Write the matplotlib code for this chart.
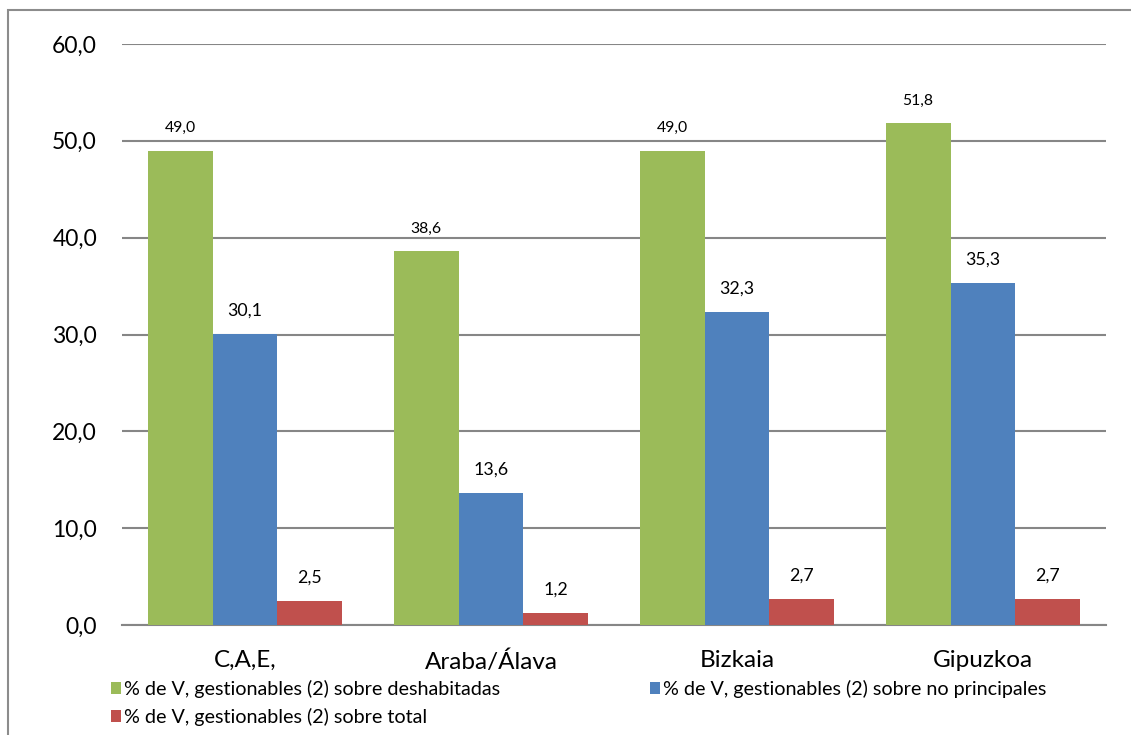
import matplotlib
matplotlib.use("Agg")
import matplotlib.pyplot as plt
from matplotlib.patches import Rectangle
import numpy as np

categories = ["C,A,E,", "Araba/Álava", "Bizkaia", "Gipuzkoa"]
deshabitadas = [49.0, 38.6, 49.0, 51.8]
no_principales = [30.1, 13.6, 32.3, 35.3]
total = [2.5, 1.2, 2.7, 2.7]
series_labels = [
    "% de V, gestionables (2) sobre deshabitadas",
    "% de V, gestionables (2) sobre no principales",
    "% de V, gestionables (2) sobre total",
]
colors = ["#9BBB59", "#4F81BD", "#C0504D"]
label_sizes = [11.3, 12.8, 12.8]
yticks = [0, 10, 20, 30, 40, 50, 60]

plt.rcParams["font.family"] = ["Lato", "DejaVu Sans"]

fig = plt.figure(figsize=(11.31, 7.35), dpi=100)
ax = fig.add_axes([122 / 1131, 1 - 625 / 735, (1106 - 122) / 1131, (625 - 44) / 735])

x = np.arange(len(categories))
w = 0.264
series = [deshabitadas, no_principales, total]
bars = []
for i, (vals, col, lab, fs) in enumerate(zip(series, colors, series_labels, label_sizes)):
    b = ax.bar(x + (i - 1) * w, vals, w, color=col, label=lab, zorder=3)
    bars.append(b)
    for xi, v in zip(x, vals):
        ax.annotate(f"{v:.1f}".replace(".", ","), (xi + (i - 1) * w, v),
                    xytext=(0, 11), textcoords="offset points",
                    ha="center", va="bottom", fontsize=fs, color="#000000")

ax.set_xlim(-0.5, len(categories) - 0.5)
ax.set_ylim(0, 60)
ax.set_yticks(yticks)
ax.set_yticklabels([f"{t:.1f}".replace(".", ",") for t in yticks], fontsize=16.5)
ax.set_xticks(x)
ax.set_xticklabels(categories, fontsize=17.5)
ax.tick_params(axis="both", length=0)
ax.tick_params(axis="y", pad=18)
ax.tick_params(axis="x", pad=18)
ax.grid(axis="y", color="#868686", linewidth=1.5, zorder=0)
for s in ["top", "right", "left"]:
    ax.spines[s].set_visible(False)
ax.spines["bottom"].set_color("#868686")
ax.spines["bottom"].set_linewidth(1.5)

handles = [bars[0], bars[2], bars[1]]
labels = [series_labels[0], series_labels[2], series_labels[1]]
fig.legend(handles, labels, ncol=2, loc="upper left",
           bbox_to_anchor=(111 / 1131, 1 - 680 / 735), frameon=False,
           fontsize=14.2, handlelength=0.5, handleheight=0.5, handletextpad=0.15,
           columnspacing=7.6, labelspacing=0.5, borderaxespad=0, borderpad=0)

fig.add_artist(Rectangle((8 / 1131, -0.1), 1.2, 1 - 10 / 735 + 0.1,
                         transform=fig.transFigure, fill=False,
                         edgecolor="#8C8C8C", linewidth=1.5))

fig.savefig("out.png", dpi=100, facecolor="white")
